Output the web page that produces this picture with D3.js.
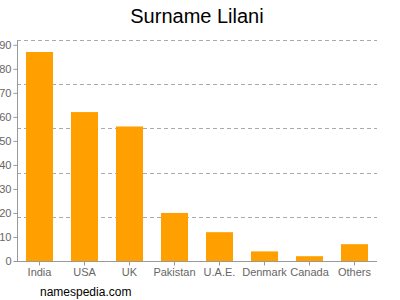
<!DOCTYPE html>
<html><head><meta charset="utf-8">
<script src="https://cdn.jsdelivr.net/npm/d3@7"></script>
<style>body{margin:0;background:#fff}svg{display:block}text{font-family:Arial,"Liberation Sans",sans-serif}</style>
</head><body>
<svg id="c" width="400" height="300"></svg>
<script>
const categories = ["India","USA","UK","Pakistan","U.A.E.","Denmark","Canada","Others"];
const values = [87,62,56,20,12,4,2,7];
const yTicks = [0,10,20,30,40,50,60,70,80,90];
const yMax = 92;
const gridValues = [18.4,36.8,55.2,73.6,92];

const svg = d3.select("#c");
const m = {l:17, r:377, t:40, b:261};
const x = d3.scaleBand().domain(categories).range([m.l, m.r]).paddingInner(0.4).paddingOuter(0.2);
const y = d3.scaleLinear().domain([0, yMax]).range([m.b, m.t]);

svg.append("text").attr("x",197).attr("y",23).attr("text-anchor","middle")
  .attr("font-size",20).attr("fill","#000").text("Surname Lilani");

svg.append("g").selectAll("line").data(gridValues).join("line")
  .attr("x1",m.l).attr("x2",m.r).attr("y1",d=>Math.round(y(d))+0.5).attr("y2",d=>Math.round(y(d))+0.5)
  .attr("stroke","#aaa").attr("stroke-dasharray","4,3").attr("stroke-width",1);

svg.append("g").selectAll("rect").data(values).join("rect")
  .attr("x",(d,i)=>x(categories[i])).attr("width",x.bandwidth())
  .attr("y",d=>y(d)).attr("height",d=>y(0)-y(d)).attr("fill","#ffa000");

const ya = svg.append("g").attr("transform",`translate(${m.l+0.5},0)`)
  .call(d3.axisLeft(y).tickValues(yTicks).tickSize(4).tickPadding(2).tickFormat(d3.format("d")));
ya.select(".domain").attr("stroke","#999").attr("d",`M0,${m.t}V${m.b}`);
ya.selectAll(".tick line").attr("stroke","#999");
ya.selectAll(".tick text").attr("fill","#666").attr("font-size",11).attr("font-family","Arial,'Liberation Sans',sans-serif");

const xa = svg.append("g").attr("transform",`translate(0,${m.b+0.5})`)
  .call(d3.axisBottom(x).tickSize(4).tickPadding(3));
xa.select(".domain").attr("stroke","#999").attr("d",`M${m.l},0H${m.r}`);
xa.selectAll(".tick line").attr("stroke","#999");
xa.selectAll(".tick text").attr("fill","#666").attr("font-size",11).attr("font-family","Arial,'Liberation Sans',sans-serif");

svg.append("text").attr("x",40).attr("y",296).attr("font-size",12).attr("fill","#000").text("namespedia.com");
</script>
</body></html>
